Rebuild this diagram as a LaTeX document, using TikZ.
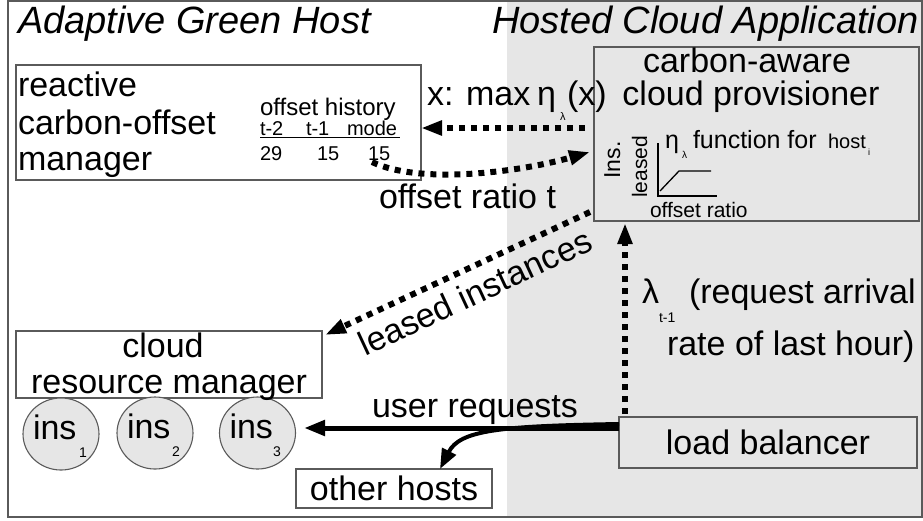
\documentclass[tikz,border=0pt]{standalone}
\usepackage{fontspec}
\setmainfont{Liberation Sans}
\usetikzlibrary{arrows.meta,calc,shapes.geometric}
\definecolor{bggray}{RGB}{230,230,230}
\definecolor{edge}{RGB}{90,90,90}
\newcommand\myfs[1]{\fontsize{#1}{#1}\selectfont}
\begin{document}
\begin{tikzpicture}[x=1pt,y=-1pt,
  box/.style={draw=edge, line width=1.3pt, rectangle, inner sep=0pt, outer sep=0pt, anchor=north west},
  txt/.style={inner sep=0pt, outer sep=0pt, anchor=base west},
  ctxt/.style={inner sep=0pt, outer sep=0pt, anchor=base},
  insnode/.style={draw=edge, line width=1.1pt, fill=bggray, ellipse, minimum width=76pt, minimum height=72pt, inner sep=0pt},
  dotarr/.style={line width=6pt, dash pattern=on 6pt off 6pt, -{Triangle[length=21pt,width=14pt]}},
  solarr/.style={line width=5pt, -{Triangle[length=21pt,width=15pt]}},
  branch/.style={line width=4pt, -{Triangle[length=20pt,width=15pt]}},
  big/.style={font={\myfs{34}}},
]
\useasboundingbox (0,0) rectangle (923,520);
\fill[bggray] (507,1) rectangle (922,517);
\draw[edge, line width=1.5pt] (8,1) rectangle (922,517);

% titles
\node[txt, font={\itshape\myfs{38}}] (t1) at (18,33) {Adaptive Green Host};
\node[txt, font={\itshape\myfs{38}}] (t2) at (492,33) {Hosted Cloud Application};

% boxes
\node[box, fill=white, minimum width=405pt, minimum height=115pt] (rcm) at (16,65) {};
\node[box, fill=bggray, minimum width=325pt, minimum height=174pt] (cap) at (594,47) {};
\node[box, fill=white, minimum width=306pt, minimum height=67pt] (crm) at (16,331) {};
\node[box, fill=bggray, minimum width=298pt, minimum height=51pt, big] (lb) at (619,417) {load balancer};
\node[box, fill=white, minimum width=196pt, minimum height=39pt, big] (oh) at (296,469) {other hosts};

\node[insnode] (ins1) at (61,434) {};
\node[insnode] (ins2) at (155,433) {};
\node[insnode] (ins3) at (257.5,433) {};

% reactive carbon-offset manager
\node[txt, big] (r1) at (18,96) {reactive};
\node[txt, big] (r2) at (18,134) {carbon-offset};
\node[txt, big] (r3) at (18,170) {manager};
\node[txt, font={\myfs{24}}] (oh1) at (260,115) {offset history};
\node[txt, font={\myfs{20}}] (h1) at (260,135) {t-2};
\node[txt, font={\myfs{20}}] (h2) at (306,135) {t-1};
\node[txt, font={\myfs{20}}] (h3) at (347,135) {mode};
\draw[line width=1.2pt] (h1.base west) ++(0,2.5) -- ++(140,0);
\node[txt, font={\myfs{20}}] (v1) at (260,160) {29};
\node[txt, font={\myfs{20}}] (v2) at (317,160) {15};
\node[txt, font={\myfs{20}}] (v3) at (368,160) {15};

% carbon-aware cloud provisioner
\node[ctxt, big] (c1) at (747,72) {carbon-aware};
\node[ctxt, big] (c2) at (751,105) {cloud provisioner};
\node[txt, font={\myfs{25}}] (eta) at (665,148) {η};
\node[txt, font={\myfs{10}}] (etas) at (682,158) {λ};
\node[txt, font={\myfs{25}}] (ff) at (693,148) {function for};
\node[txt, font={\myfs{20}}] (hst) at (828,148) {host};
\node[txt, font={\myfs{9}}] (hsti) at (868,155) {i};
\node[ctxt, rotate=90, font={\myfs{23}}] (insl) at (620,160) {Ins.};
\node[ctxt, rotate=90, font={\myfs{21}}] (lsd) at (647,167) {leased};
\draw[line width=1.3pt] (658,143) -- (658,196) -- (717,196);
\draw[line width=1.3pt] (660,191) -- (679,171) -- (711,171);
\node[txt, font={\myfs{21}}] (orx) at (650,217) {offset ratio};

% x: max eta(x)
\node[txt, big] (xm) at (427,105) {x: max};
\node[txt, big] (xe) at (537,105) {η};
\node[txt, font={\myfs{11}}] (xl) at (560,120) {λ};
\node[txt, big] (xx) at (567,105) {(x)};

\node[txt, big] (ort) at (379,208) {offset ratio t};
\node[ctxt, big, rotate=25] (li) at (480,303) {leased instances};

\node[txt, big] (lam) at (642,303) {λ};
\node[txt, font={\myfs{14}}] (lams) at (659,322) {t-1};
\node[txt, big] (ra1) at (689,303) {(request arrival};
\node[txt, big] (ra2) at (667,355) {rate of last hour)};

% cloud resource manager
\node[ctxt, big] (cr1) at (163,357) {cloud};
\node[ctxt, big] (cr2) at (169,393) {resource manager};

\foreach \i/\dx in {1/18,2/17,3/15.5}{
  \node[txt, big] at ($(ins\i.center)+(-28,5)$) {ins};
  \node[txt, font={\myfs{14}}] at ($(ins\i.center)+(\dx,23)$) {\i};
}

\node[txt, big] (ur) at (372,417) {user requests};

% connectors
\coordinate (ya) at (0,128);
\coordinate (yb) at (0,152);
\coordinate (yc) at (0,428);
\coordinate (ors) at (372,162);
\draw[dotarr, shorten <=9pt] (cap.west |- ya) -- (rcm.east |- ya);
\draw[dotarr] (ors) .. controls (420,185) and (520,172) .. ($(cap.west |- yb)+(-4,0)$);
\draw[dotarr] ($(cap.south west)+(-4,-9)$) -- ($(crm.north east)+(3,4)$);
\draw[dotarr] ($(lb.north west)+(6,-3)$) -- ($(cap.south west)+(31,2)$);
\draw[solarr, shorten >=8pt] (lb.west |- yc) -- (ins3.east |- yc);
\draw[branch] ($(lb.north west)+(0,7)$) .. controls (500,426) and (460,430) .. ($(oh.north west)+(144,0)$);
\end{tikzpicture}
\end{document}
